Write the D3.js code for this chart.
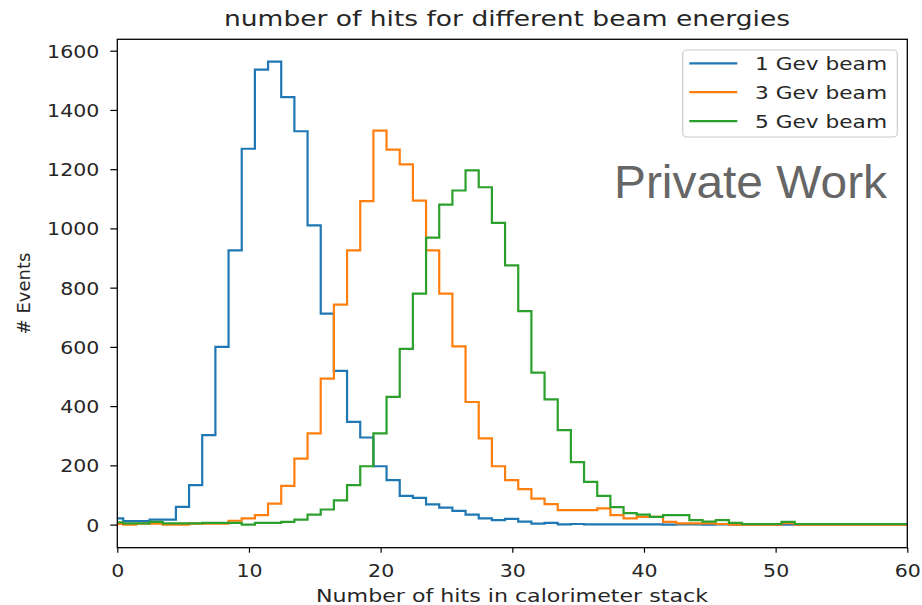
<!DOCTYPE html>
<html>
<head>
<meta charset="utf-8">
<script src="https://cdn.jsdelivr.net/npm/d3@7"></script>
<style>
  html, body { margin: 0; padding: 0; background: #fff; }
  svg { display: block; }
  text { font-family: "DejaVu Sans", sans-serif; fill: #262626; }
</style>
</head>
<body>
<svg id="chart" width="922" height="605"></svg>
<script>
// ---------- data ----------
const titleText = "number of hits for different beam energies";
const xLabel = "Number of hits in calorimeter stack";
const yLabel = "# Events";
const watermark = "Private Work";
const seriesNames = ["1 Gev beam", "3 Gev beam", "5 Gev beam"];
const seriesColors = ["#1f77b4", "#ff7f0e", "#2ca02c"];
const xTicks = [0, 10, 20, 30, 40, 50, 60];
const yTicks = [0, 200, 400, 600, 800, 1000, 1200, 1400, 1600];
const firstBinEdge = -0.55;   // left edge of first bin
const binWidth = 1;

// counts per bin (bin i spans firstBinEdge + i .. firstBinEdge + i + 1)
const beam1 = [21, 12, 12, 17, 17, 60, 133, 302, 600, 926,
  1269, 1536, 1563, 1443, 1328, 1010, 712, 519, 347, 294,
  197, 150, 97, 90, 68, 57, 46, 34, 21, 15,
  19, 10, 3, 6, 1, 2, 1, 1, 1, 1,
  1, 1, 0, 1, 1, 0, 1, 0, 0, 0,
  0, 0, 0, 0, 0, 0, 0, 0, 0, 0, 0];
const beam3 = [2, 0, 3, 3, 0, 0, 3, 3, 3, 13,
  21, 32, 71, 131, 223, 308, 493, 743, 926, 1092,
  1330, 1266, 1216, 1094, 926, 780, 602, 414, 291, 197,
  150, 120, 88, 69, 49, 49, 49, 55, 32, 21,
  26, 26, 9, 4, 4, 4, 2, 0, 0, 0,
  0, 5, 0, 0, 0, 0, 0, 0, 0, 0, 0];
const beam5 = [8, 4, 4, 9, 4, 4, 4, 6, 6, 6,
  0, 6, 6, 9, 17, 34, 51, 82, 133, 197,
  308, 431, 593, 780, 969, 1080, 1128, 1196, 1139, 1019,
  875, 721, 513, 423, 319, 211, 144, 97, 59, 39,
  34, 26, 32, 32, 15, 10, 15, 6, 2, 2,
  2, 9, 2, 2, 2, 2, 2, 2, 2, 2, 2];
const seriesValues = [beam1, beam3, beam5];

// ---------- layout ----------
const svg = d3.select("#chart");
const L = 117.3, R = 907.3, T = 39.3, B = 547.7;
const hs = 1.14; // horizontal text stretch of the original picture

const x = d3.scaleLinear().domain([0, 60]).range([L, R]);
const y = d3.scaleLinear().domain([-78, 1638.5]).range([B, T]);

svg.append("defs").append("clipPath").attr("id", "plotclip")
  .append("rect").attr("x", L).attr("y", T).attr("width", R - L).attr("height", B - T);

// histograms (step outlines)
const line = d3.line().x(d => x(d[0])).y(d => y(d[1]));
const plot = svg.append("g").attr("clip-path", "url(#plotclip)");
seriesValues.forEach((vals, si) => {
  const pts = [[firstBinEdge, 0]];
  vals.forEach((v, i) => {
    const e0 = firstBinEdge + i * binWidth, e1 = e0 + binWidth;
    pts.push([e0, v]); pts.push([e1, v]);
  });
  pts.push([firstBinEdge + vals.length * binWidth, 0]);
  plot.append("path").attr("d", line(pts))
    .attr("fill", "none").attr("stroke", seriesColors[si])
    .attr("stroke-width", 2.2).attr("stroke-linejoin", "miter");
});

// axes
const xAxis = svg.append("g").attr("transform", `translate(0,${B})`)
  .call(d3.axisBottom(x).tickValues(xTicks).tickSize(5).tickPadding(0).tickFormat(d3.format("d")));
xAxis.select(".domain").remove();
xAxis.selectAll(".tick line").attr("stroke", "#000").attr("stroke-width", 1.2);
xAxis.selectAll(".tick text").attr("y", 29).attr("dy", null)
  .attr("font-size", 18).attr("font-family", "DejaVu Sans").attr("fill", "#262626")
  .attr("transform", `scale(${hs},1)`);

const yAxis = svg.append("g").attr("transform", `translate(${L},0)`)
  .call(d3.axisLeft(y).tickValues(yTicks).tickSize(7).tickFormat(d3.format("d")));
yAxis.select(".domain").remove();
yAxis.selectAll(".tick line").attr("stroke", "#000").attr("stroke-width", 1.2);
yAxis.selectAll(".tick text").attr("x", -18 / hs).attr("dy", "0.36em")
  .attr("font-size", 18).attr("font-family", "DejaVu Sans").attr("fill", "#262626")
  .attr("transform", `scale(${hs},1)`);

// frame
svg.append("rect").attr("x", L).attr("y", T).attr("width", R - L).attr("height", B - T)
  .attr("fill", "none").attr("stroke", "#000").attr("stroke-width", 1.3);

// title & labels
svg.append("text").attr("x", 507).attr("y", 26).attr("text-anchor", "middle")
  .attr("font-size", 21).attr("textLength", 566).attr("lengthAdjust", "spacingAndGlyphs")
  .text(titleText);
svg.append("text").attr("x", 512).attr("y", 602).attr("text-anchor", "middle")
  .attr("font-size", 18.5).attr("textLength", 392).attr("lengthAdjust", "spacingAndGlyphs")
  .text(xLabel);
svg.append("text").attr("transform", `translate(30,${(T + B) / 2}) rotate(-90)`)
  .attr("text-anchor", "middle").attr("font-size", 18)
  .text(yLabel);

// legend
const lg = svg.append("g");
lg.append("rect").attr("x", 682.7).attr("y", 50).attr("width", 214.6).attr("height", 87)
  .attr("rx", 4).attr("fill", "#fff").attr("fill-opacity", 0.8)
  .attr("stroke", "#cccccc").attr("stroke-width", 1.2);
seriesNames.forEach((name, i) => {
  const ly = 63.3 + i * 28.9;
  lg.append("line").attr("x1", 689.3).attr("x2", 737.3).attr("y1", ly).attr("y2", ly)
    .attr("stroke", seriesColors[i]).attr("stroke-width", 2.2);
  lg.append("text").attr("x", 755).attr("y", ly + 7).attr("font-size", 18.5)
    .attr("textLength", 132).attr("lengthAdjust", "spacingAndGlyphs").text(name);
});

// watermark
svg.append("text").attr("x", 614).attr("y", 197.5)
  .attr("font-size", 46)
  .attr("textLength", 273).attr("lengthAdjust", "spacingAndGlyphs")
  .style("font-family", "'Liberation Sans', Arial, sans-serif").style("fill", "#666666")
  .text(watermark);
</script>
</body>
</html>
